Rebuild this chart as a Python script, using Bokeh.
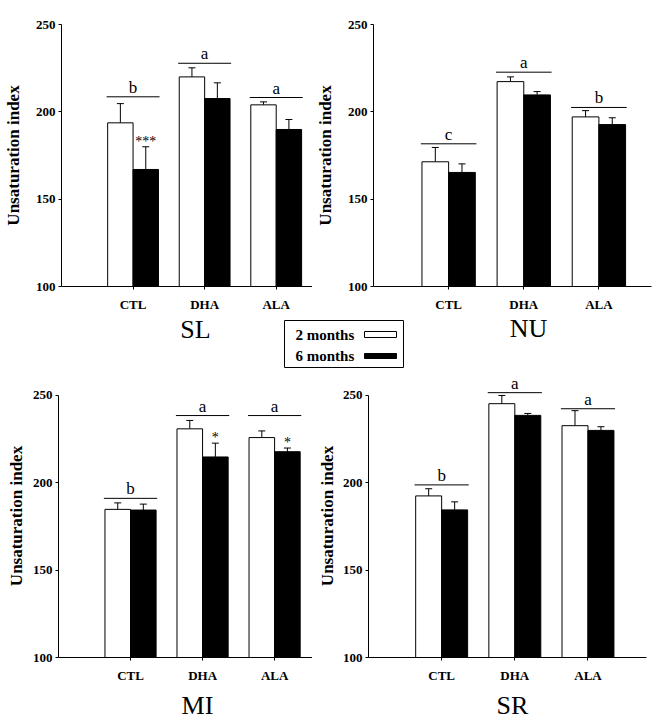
from bokeh.plotting import figure
from bokeh.layouts import column, row
from bokeh.models import ColumnDataSource, FixedTicker, Range1d, Whisker, TeeHead, LabelSet, Title
from bokeh.core.properties import value
from bokeh.embed import file_html
from bokeh.resources import INLINE

FONT = "Liberation Serif"

groups = ["CTL", "DHA", "ALA"]
group_pos = [1, 2, 3]
y_ticks = [100, 150, 200, 250]
series_names = ["2 months", "6 months"]
y_title = "Unsaturation index"

# SL
sl_m2 = [193.7, 220.0, 204.0]
sl_e2 = [11.0, 5.2, 1.7]
sl_m6 = [167.0, 207.6, 189.9]
sl_e6 = [13.0, 9.0, 5.7]
sl_sig_y = [208.6, 227.8, 208.2]
sl_sig = ["b", "a", "a"]
sl_stars = ["***", "", ""]

# NU
nu_m2 = [171.4, 217.3, 197.1]
nu_e2 = [8.2, 2.7, 3.6]
nu_m6 = [165.3, 209.7, 192.7]
nu_e6 = [4.9, 1.9, 3.9]
nu_sig_y = [181.7, 222.7, 202.5]
nu_sig = ["c", "a", "b"]
nu_stars = ["", "", ""]

# MI
mi_m2 = [184.8, 230.9, 225.9]
mi_e2 = [3.7, 4.8, 3.8]
mi_m6 = [184.4, 214.8, 217.8]
mi_e6 = [3.4, 7.9, 2.1]
mi_sig_y = [191.1, 238.5, 238.5]
mi_sig = ["b", "a", "a"]
mi_stars = ["", "*", "*"]

# SR
sr_m2 = [192.5, 245.3, 232.7]
sr_e2 = [4.1, 4.7, 8.6]
sr_m6 = [184.5, 238.6, 230.0]
sr_e6 = [4.6, 1.1, 2.1]
sr_sig_y = [198.8, 251.6, 242.4]
sr_sig = ["b", "a", "a"]
sr_stars = ["", "", ""]

panel_names = ["SL", "NU", "MI", "SR"]


def panel(m2, e2, m6, e6, sig_y, sig, stars, x_end, y_end, width, height,
          mb_left, mb_right, mb_top, mb_bottom, label_standoff, label_as_title=False):
    p = figure(width=width, height=height, x_range=Range1d(0, x_end),
               y_range=Range1d(100, y_end), output_backend="svg",
               toolbar_location=None, tools="",
               min_border_left=mb_left, min_border_right=mb_right,
               min_border_top=mb_top, min_border_bottom=mb_bottom)
    p.outline_line_color = None
    p.grid.visible = False
    p.background_fill_color = "white"
    p.border_fill_color = "white"
    w = 0.355
    hw = 0.37
    src = ColumnDataSource(dict(
        pos=group_pos,
        x2=[g - w / 2 for g in group_pos],
        x6=[g + w / 2 for g in group_pos],
        m2=m2, m6=m6,
        u2=[m + e for m, e in zip(m2, e2)],
        u6=[m + e for m, e in zip(m6, e6)],
        sig_y=sig_y, sig=sig, stars=stars,
        x0=[g - hw for g in group_pos],
        x1=[g + hw for g in group_pos],
    ))
    p.vbar(x="x2", top="m2", bottom=100, width=w, fill_color="white",
           line_color="black", line_width=1, source=src)
    p.vbar(x="x6", top="m6", bottom=100, width=w, fill_color="black",
           line_color="black", line_width=1, source=src)
    for base, lo, up in (("x2", "m2", "u2"), ("x6", "m6", "u6")):
        p.add_layout(Whisker(source=src, base=base, lower=lo, upper=up,
                             dimension="height", lower_head=None,
                             upper_head=TeeHead(size=7, line_color="black", line_width=1),
                             line_color="black", line_width=1))
    p.segment(x0="x0", x1="x1", y0="sig_y", y1="sig_y", line_color="black",
              line_width=1, source=src)
    p.add_layout(LabelSet(source=src, x="pos", y="sig_y", text="sig",
                          text_font=value(FONT), text_font_size="17px",
                          text_align="center", text_baseline="alphabetic",
                          y_offset=4, text_color="black"))
    p.add_layout(LabelSet(source=src, x="x6", y="u6", text="stars",
                          text_font=value(FONT), text_font_size="14px",
                          text_align="center", text_baseline="alphabetic",
                          y_offset=1, text_color="black"))

    xa = p.xaxis[0]
    xa.ticker = FixedTicker(ticks=group_pos)
    xa.major_label_overrides = {g: n for g, n in zip(group_pos, groups)}
    xa.major_tick_out = 3
    xa.major_tick_in = 0
    xa.minor_tick_line_color = None
    xa.major_label_standoff = 7
    xa.major_label_text_font = FONT
    xa.major_label_text_font_style = "bold"
    xa.major_label_text_font_size = "13px"
    xa.major_label_text_color = "black"
    xa.axis_line_color = "black"
    xa.major_tick_line_color = "black"

    ya = p.yaxis[0]
    ya.ticker = FixedTicker(ticks=y_ticks)
    ya.bounds = (100, 250)
    ya.major_tick_out = 3
    ya.major_tick_in = 0
    ya.minor_tick_line_color = None
    ya.major_label_standoff = 3
    ya.major_label_text_font = FONT
    ya.major_label_text_font_style = "bold"
    ya.major_label_text_font_size = "13px"
    ya.major_label_text_color = "black"
    ya.axis_line_color = "black"
    ya.major_tick_line_color = "black"
    if label_as_title:
        # centred on the 100-250 span rather than on the taller frame
        p.add_layout(Title(text=y_title, align="center", offset=-10, standoff=label_standoff,
                           text_font=FONT, text_font_style="bold",
                           text_font_size="17px", text_color="black"), "left")
    else:
        ya.axis_label = y_title
        ya.axis_label_text_font = FONT
        ya.axis_label_text_font_style = "bold"
        ya.axis_label_text_font_size = "17px"
        ya.axis_label_text_color = "black"
        ya.axis_label_standoff = label_standoff
    return p


def strip(height, y_top, y_bottom):
    s = figure(width=664, height=height, x_range=Range1d(0, 664),
               y_range=Range1d(y_bottom, y_top), output_backend="svg",
               toolbar_location=None, tools="", min_border=0)
    s.axis.visible = False
    s.grid.visible = False
    s.outline_line_color = None
    return s


p_sl = panel(sl_m2, sl_e2, sl_m6, sl_e6, sl_sig_y, sl_sig, sl_stars, 3.507, 250, 312, 314, 56, 0, 24, 28, 10)
p_nu = panel(nu_m2, nu_e2, nu_m6, nu_e6, nu_sig_y, nu_sig, nu_stars, 3.70, 250, 352, 314, 53, 13, 24, 28, 10)
p_mi = panel(mi_m2, mi_e2, mi_m6, mi_e6, mi_sig_y, mi_sig, mi_stars, 3.526, 262, 312, 311, 56, 0, 0, 28, 8,
             label_as_title=True)
p_sr = panel(sr_m2, sr_e2, sr_m6, sr_e6, sr_sig_y, sr_sig, sr_stars, 3.80, 262, 352, 311, 56, 18, 0, 28, 5,
             label_as_title=True)

# middle strip: panel names of top row and legend
s1 = strip(60, 314, 374)
s1.text(x=[195, 528], y=[329, 328], text=panel_names[:2], text_font=value(FONT),
        text_font_size="26px", text_align="center", text_baseline="middle", text_color="black")
s1.quad(left=[284], right=[403], top=[320], bottom=[367], fill_color="white",
        line_color="black", line_width=1)
s1.text(x=[295, 295], y=[334, 355], text=series_names, text_font=value(FONT),
        text_font_size="15px", text_font_style="bold", text_align="left",
        text_baseline="middle", text_color="black")
s1.quad(left=[364, 364], right=[396, 396], top=[331, 353], bottom=[337, 358],
        fill_color=["white", "black"], line_color="black", line_width=1)

# bottom strip: panel names of bottom row
s2 = strip(35, 685, 720)
s2.text(x=[197, 512], y=[705, 705], text=panel_names[2:], text_font=value(FONT),
        text_font_size="26px", text_align="center", text_baseline="middle", text_color="black")

layout = column(row(p_sl, p_nu), s1, row(p_mi, p_sr), s2)
open("out.html", "w").write(file_html(layout, INLINE))
